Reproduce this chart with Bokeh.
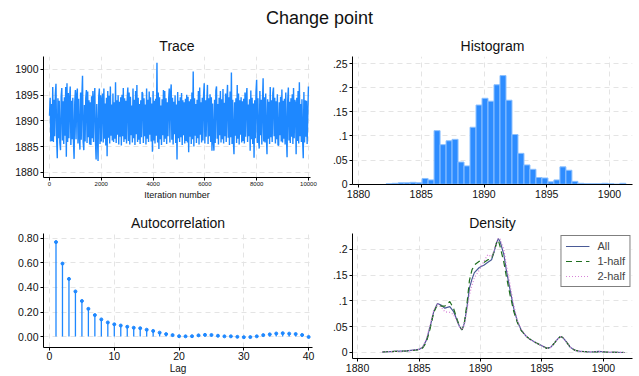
from bokeh.plotting import figure
from bokeh.layouts import column, row
from bokeh.models import Div, Range1d, FixedTicker, CustomJSTickFormatter, Legend, LegendItem
from bokeh.embed import file_html
from bokeh.resources import INLINE

# ---------------- data ----------------
trace_step = 25  # iterations between stored trace values
trace_values = [
    1891.0, 1894.5, 1886.0, 1893.3, 1886.1, 1896.6, 1885.9, 1894.1, 1887.0, 1895.2, 1897.2, 1886.5, 1882.7, 1894.4, 1886.6, 1893.9, 1885.8, 1884.3, 1894.8, 1896.4,
    1886.2, 1893.8, 1885.5, 1894.6, 1887.1, 1896.6, 1883.0, 1897.3, 1885.9, 1895.4, 1886.6, 1894.2, 1896.7, 1885.3, 1893.9, 1886.4, 1894.5, 1886.0, 1882.6, 1893.6,
    1896.0, 1886.4, 1894.9, 1896.3, 1885.6, 1894.3, 1887.2, 1884.4, 1895.5, 1886.3, 1894.7, 1898.8, 1885.8, 1884.3, 1893.1, 1886.0, 1894.4, 1896.0, 1885.7, 1895.7,
    1886.8, 1894.0, 1885.4, 1893.6, 1885.3, 1894.8, 1886.6, 1895.8, 1885.9, 1894.2, 1896.4, 1886.1, 1882.5, 1893.3, 1887.3, 1882.2, 1894.6, 1896.3, 1885.5, 1895.0,
    1886.0, 1894.1, 1895.3, 1885.8, 1896.3, 1886.5, 1893.4, 1885.2, 1894.5, 1883.1, 1895.8, 1886.7, 1894.9, 1885.6, 1896.7, 1887.1, 1893.2, 1886.2, 1895.3, 1885.9,
    1893.6, 1886.5, 1897.5, 1885.7, 1894.0, 1887.3, 1895.0, 1885.4, 1893.7, 1886.9, 1894.6, 1885.2, 1895.1, 1887.0, 1896.4, 1885.9, 1894.4, 1886.4, 1893.9, 1885.6,
    1894.2, 1896.5, 1886.1, 1895.5, 1885.4, 1894.7, 1887.2, 1893.0, 1885.8, 1896.3, 1886.6, 1894.1, 1885.3, 1895.8, 1887.4, 1897.0, 1885.9, 1894.5, 1886.3, 1893.3,
    1885.5, 1894.0, 1886.8, 1895.6, 1895.3, 1885.7, 1894.4, 1887.0, 1893.2, 1885.4, 1896.3, 1886.5, 1894.1, 1885.9, 1895.7, 1887.3, 1894.6, 1886.0, 1893.4, 1884.0,
    1895.8, 1886.2, 1893.9, 1885.6, 1894.3, 1887.1, 1901.3, 1885.8, 1895.5, 1884.5, 1894.6, 1886.4, 1893.0, 1885.3, 1894.2, 1887.2, 1896.0, 1885.9, 1895.8, 1886.5,
    1894.4, 1885.5, 1893.6, 1887.0, 1894.1, 1896.3, 1885.8, 1895.3, 1897.1, 1886.3, 1894.5, 1885.4, 1893.7, 1887.4, 1895.0, 1885.7, 1893.2, 1882.5, 1895.6, 1886.6,
    1893.9, 1885.9, 1894.6, 1886.8, 1895.4, 1885.3, 1894.0, 1887.2, 1893.6, 1885.6, 1894.3, 1886.1, 1895.1, 1885.8, 1894.7, 1883.9, 1893.8, 1886.9, 1894.2, 1885.5,
    1895.5, 1886.4, 1899.6, 1885.0, 1894.4, 1887.1, 1893.3, 1885.7, 1894.1, 1886.6, 1895.8, 1885.4, 1896.5, 1887.3, 1893.6, 1885.8, 1894.5, 1886.2, 1895.0, 1897.3,
    1885.6, 1894.0, 1886.9, 1893.7, 1897.0, 1885.5, 1894.4, 1887.0, 1895.2, 1885.9, 1894.6, 1884.2, 1893.4, 1886.3, 1884.2, 1894.1, 1885.7, 1895.9, 1896.7, 1886.5,
    1893.3, 1885.4, 1894.5, 1887.2, 1895.8, 1885.8, 1894.2, 1886.4, 1896.2, 1885.6, 1893.5, 1887.0, 1895.3, 1885.9, 1894.1, 1897.0, 1886.7, 1894.6, 1885.3, 1895.7,
    1886.8, 1899.4, 1885.5, 1894.1, 1886.2, 1883.5, 1893.6, 1887.1, 1894.4, 1885.7, 1897.0, 1886.5, 1895.3, 1885.4, 1894.0, 1887.3, 1894.6, 1885.8, 1893.8, 1886.1,
    1894.3, 1885.6, 1895.5, 1886.9, 1894.7, 1896.4, 1885.9, 1893.2, 1887.0, 1894.2, 1884.2, 1895.9, 1886.4, 1894.5, 1885.5, 1893.4, 1882.8, 1894.0, 1886.6, 1895.6,
    1898.0, 1885.7, 1894.4, 1886.3, 1884.6, 1895.8, 1887.2, 1894.1, 1885.4, 1893.5, 1898.3, 1886.0, 1894.6, 1885.8, 1895.3, 1887.1, 1883.5, 1894.2, 1886.5, 1893.7,
    1885.5, 1896.6, 1886.8, 1894.0, 1885.9, 1895.4, 1896.5, 1887.0, 1894.5, 1885.6, 1893.8, 1886.4, 1895.2, 1885.3, 1885.2, 1893.6, 1887.2, 1894.7, 1886.0, 1896.1,
    1885.8, 1893.9, 1886.5, 1894.3, 1885.4, 1895.5, 1887.1, 1882.9, 1894.0, 1896.5, 1886.2, 1893.7, 1885.7, 1894.4, 1886.9, 1895.2, 1885.5, 1896.4, 1886.6, 1894.1,
    1893.4, 1883.5, 1894.5, 1886.1, 1895.8, 1885.6, 1897.5, 1887.0, 1893.3, 1885.9, 1894.2, 1886.4, 1882.7, 1895.6, 1885.8, 1894.0, 1886.9, 1893.9, 1885.5, 1891.0,
    1896.7,
]
trace_iter = [i * trace_step for i in range(len(trace_values))]

hist_start = 1882.2
hist_width = 0.4775
hist_density = [
    0.001, 0.002, 0.003, 0.003, 0.004, 0.003, 0.012, 0.009, 0.111, 0.082,
    0.090, 0.093, 0.046, 0.038, 0.118, 0.164, 0.178, 0.172, 0.206, 0.225,
    0.174, 0.103, 0.064, 0.040, 0.031, 0.014, 0.013, 0.005, 0.009, 0.036,
    0.029, 0.006, 0.002, 0.001, 0.001, 0.001, 0.002, 0.001, 0.000, 0.002,
]

acf_lags = list(range(1, 41))
acf_values = [
    0.770, 0.595, 0.470, 0.368, 0.290, 0.226, 0.175, 0.140, 0.115, 0.100,
    0.090, 0.080, 0.072, 0.068, 0.056, 0.046, 0.032, 0.020, 0.012, 0.003,
    0.002, 0.003, 0.010, 0.014, 0.013, 0.007, 0.002, 0.002, -0.002, -0.005,
    -0.004, 0.002, 0.012, 0.018, 0.025, 0.028, 0.024, 0.021, 0.013, -0.003,
]

dens_x = [1882.0, 1883.0, 1884.0, 1885.0, 1885.3, 1885.6, 1885.9, 1886.2, 1886.5, 1886.8,
          1887.1, 1887.5, 1887.8, 1888.1, 1888.3, 1888.5, 1888.7, 1888.9, 1889.1, 1889.3,
          1889.5, 1889.9, 1890.3, 1890.6, 1890.9, 1891.1, 1891.3, 1891.45, 1891.6, 1891.9,
          1892.1, 1892.4, 1892.7, 1893.0, 1893.3, 1893.7, 1894.0, 1894.5, 1895.0, 1895.4,
          1895.7, 1896.0, 1896.3, 1896.5, 1896.7, 1897.0, 1897.3, 1897.7, 1898.2, 1899.0,
          1899.6, 1900.2, 1901.0, 1901.7]
dens_all = [0.001, 0.002, 0.003, 0.006, 0.010, 0.024, 0.050, 0.080, 0.095, 0.092,
            0.086, 0.089, 0.080, 0.062, 0.050, 0.044, 0.058, 0.088, 0.125, 0.142,
            0.155, 0.165, 0.170, 0.175, 0.180, 0.195, 0.213, 0.221, 0.215, 0.190,
            0.160, 0.122, 0.086, 0.060, 0.044, 0.032, 0.026, 0.019, 0.013, 0.008,
            0.010, 0.018, 0.027, 0.031, 0.029, 0.020, 0.010, 0.004, 0.002, 0.001,
            0.002, 0.001, 0.0005, 0.0]
dens_half1 = [0.001, 0.002, 0.003, 0.005, 0.009, 0.020, 0.046, 0.078, 0.093, 0.090,
              0.090, 0.099, 0.086, 0.064, 0.050, 0.044, 0.060, 0.095, 0.140, 0.160,
              0.170, 0.177, 0.175, 0.180, 0.182, 0.196, 0.212, 0.218, 0.205, 0.175,
              0.148, 0.112, 0.080, 0.058, 0.043, 0.032, 0.026, 0.019, 0.013, 0.008,
              0.010, 0.018, 0.027, 0.031, 0.029, 0.020, 0.010, 0.004, 0.002, 0.001,
              0.001, 0.001, 0.0005, 0.0]
dens_half2 = [0.001, 0.002, 0.003, 0.006, 0.011, 0.026, 0.053, 0.082, 0.094, 0.088,
              0.079, 0.078, 0.074, 0.060, 0.049, 0.044, 0.056, 0.082, 0.112, 0.130,
              0.145, 0.160, 0.178, 0.190, 0.186, 0.197, 0.214, 0.222, 0.220, 0.200,
              0.170, 0.132, 0.092, 0.062, 0.045, 0.032, 0.026, 0.019, 0.013, 0.008,
              0.010, 0.018, 0.027, 0.031, 0.029, 0.020, 0.010, 0.004, 0.002, 0.001,
              0.002, 0.001, 0.0005, 0.0]

# ---------------- style ----------------
FONT = "Liberation Sans"
BLUE = "#1e88ff"
GRID = "#e4e4e4"

frac_fmt = CustomJSTickFormatter(code="""
    if (Math.abs(tick) < 1e-9) return "0";
    var s = tick.toFixed(2).replace(/0+$/, "");
    return s.replace(/^0\\./, ".");
""")


def make_fig(w, h, title, xr, yr, bl, br, bt, bb):
    p = figure(width=w, height=h, title=title, x_range=xr, y_range=yr,
               output_backend="svg", toolbar_location=None,
               min_border_left=bl, min_border_right=br,
               min_border_top=bt, min_border_bottom=bb)
    p.frame_align = False
    p.margin = 0
    p.outline_line_color = None
    p.title.align = "center"
    p.title.text_font = FONT
    p.title.text_font_size = "14px"
    p.title.text_font_style = "normal"
    p.title.text_color = "#111111"
    p.title.offset = 0
    p.title.standoff = 5
    p.xgrid.grid_line_color = GRID
    p.ygrid.grid_line_color = GRID
    p.xgrid.grid_line_dash = "5 4"
    p.ygrid.grid_line_dash = "5 4"
    p.axis.axis_line_color = "black"
    p.axis.major_tick_line_color = "black"
    p.axis.major_tick_out = 3
    p.axis.major_tick_in = 0
    p.axis.minor_tick_line_color = None
    p.axis.major_label_text_font = FONT
    p.axis.major_label_text_font_size = "10.5px"
    p.axis.major_label_text_color = "#111111"
    p.axis.axis_label_text_font = FONT
    p.axis.axis_label_text_font_style = "normal"
    p.axis.axis_label_text_color = "#111111"
    p.axis.major_label_standoff = 2
    return p


TOP_H = 177
BOT_H = 166

# Trace
p1 = make_fig(320, TOP_H, "Trace", Range1d(-232, 10080), Range1d(1878.97, 1902.53), 43, 10, 10, 33)
p1.line(trace_iter, trace_values, line_color=BLUE, line_width=1.4)
p1.xaxis.ticker = FixedTicker(ticks=[0, 2000, 4000, 6000, 8000, 10000])
p1.yaxis.ticker = FixedTicker(ticks=[1880, 1885, 1890, 1895, 1900])
p1.xaxis.major_label_text_font_size = "6px"
p1.xaxis.major_label_standoff = 1
p1.xaxis.axis_label = "Iteration number"
p1.xaxis.axis_label_text_font_size = "9px"
p1.xaxis.axis_label_standoff = 1

# Histogram
edges = [hist_start + hist_width * k for k in range(len(hist_density) + 1)]
p2 = make_fig(319, TOP_H, "Histogram", Range1d(1879.52, 1901.83), Range1d(-0.0005, 0.2645), 32, 7, 10, 26)
p2.quad(left=edges[:-1], right=edges[1:], bottom=0, top=hist_density,
        fill_color="#2d8cff", line_color="#8cc0ff", line_width=1)
p2.xaxis.ticker = FixedTicker(ticks=[1880, 1885, 1890, 1895, 1900])
p2.yaxis.ticker = FixedTicker(ticks=[0, 0.05, 0.1, 0.15, 0.2, 0.25])
p2.yaxis.formatter = frac_fmt

# Autocorrelation
p3 = make_fig(320, BOT_H, "Autocorrelation", Range1d(-0.93, 40.6), Range1d(-0.089, 0.840), 43, 8, 10, 28)
p3.segment(x0=acf_lags, y0=[0] * len(acf_lags), x1=acf_lags, y1=acf_values,
           line_color=BLUE, line_width=1.3)
p3.scatter(acf_lags, acf_values, size=3, fill_color=BLUE, line_color=BLUE)
p3.xaxis.ticker = FixedTicker(ticks=[0, 10, 20, 30, 40])
p3.yaxis.ticker = FixedTicker(ticks=[0, 0.2, 0.4, 0.6, 0.8])
p3.yaxis.formatter = CustomJSTickFormatter(code="return tick.toFixed(2);")
p3.xaxis.major_label_standoff = 1
p3.xaxis.axis_label = "Lag"
p3.xaxis.axis_label_text_font_size = "10px"
p3.xaxis.axis_label_standoff = 0

# Density
p4 = make_fig(319, BOT_H, "Density", Range1d(1879.59, 1902.36), Range1d(-0.01165, 0.231), 32, 7, 10, 18)
r_all = p4.line(dens_x, dens_all, line_color="#4a5a96", line_width=1.2)
r_h1 = p4.line(dens_x, dens_half1, line_color="#1f6e1f", line_width=1.2, line_dash="6 4")
r_h2 = p4.line(dens_x, dens_half2, line_color="#d77fd7", line_width=1.2, line_dash="1 2")
p4.xaxis.ticker = FixedTicker(ticks=[1880, 1885, 1890, 1895, 1900])
p4.yaxis.ticker = FixedTicker(ticks=[0, 0.05, 0.1, 0.15, 0.2])
p4.yaxis.formatter = frac_fmt
legend = Legend(items=[LegendItem(label="All", renderers=[r_all]),
                       LegendItem(label="1-half", renderers=[r_h1]),
                       LegendItem(label="2-half", renderers=[r_h2])],
                location="top_right")
legend.border_line_color = "black"
legend.border_line_width = 1
legend.background_fill_alpha = 1
legend.label_text_font = FONT
legend.label_text_font_size = "11px"
legend.label_height = 12
legend.glyph_height = 12
legend.glyph_width = 24
legend.spacing = 3
legend.padding = 4
legend.margin = 2
legend.label_standoff = 8
p4.add_layout(legend)

title = Div(text="Change point", width=639, height=33, margin=0,
            styles={"text-align": "center", "font-size": "18px", "font-family": FONT,
                    "color": "#111111", "line-height": "36px", "width": "639px",
                    "overflow": "visible"})

layout = column(title, row(p1, p2, margin=0), row(p3, p4, margin=0), margin=0)
open("out.html", "w").write(file_html(layout, INLINE))
